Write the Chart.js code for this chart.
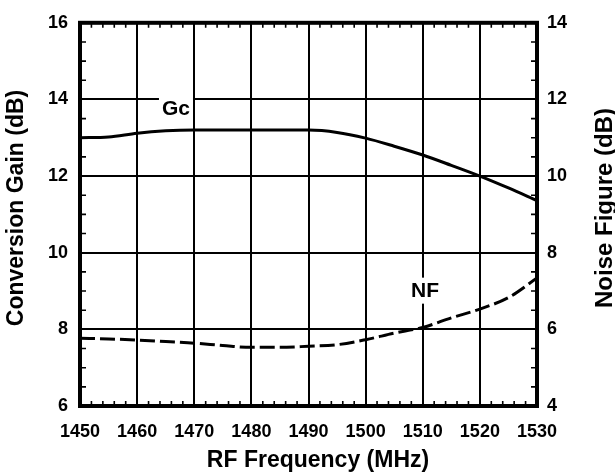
<!DOCTYPE html>
<html>
<head>
<meta charset="utf-8">
<script src="https://cdn.jsdelivr.net/npm/chart.js@4.4.1/dist/chart.umd.min.js"></script>
<style>
  html, body { margin:0; padding:0; background:#fff; }
  #wrap { width:615px; height:476px; }
</style>
</head>
<body>
<div id="wrap"><canvas id="chart" width="615" height="476"></canvas></div>
<script>
// RF frequency (MHz)
const freq = [1450,1455,1460,1465,1470,1475,1480,1485,1490,1495,1500,1505,1510,1515,1520,1525,1530];
// conversion gain Gc (dB, left axis)
const gain = [13.0,13.02,13.12,13.18,13.2,13.2,13.2,13.2,13.2,13.14,12.99,12.78,12.55,12.28,12.0,11.69,11.36];
// noise figure NF (dB, right axis)
const noise = [5.77,5.75,5.72,5.68,5.64,5.58,5.53,5.53,5.56,5.6,5.73,5.9,6.05,6.3,6.53,6.83,7.34];

const FONT = '"Liberation Sans", Arial, sans-serif';

// in-plot labels: [text, x value, y value, axis]
const curveLabels = [
  ['Gc', 1466.8, 13.78, 'y'],
  ['NF', 1510.4, 7.01, 'y1']
];

const fixedBox = (w) => (scale) => { scale.width = w; };
const tickFont = { family: FONT, size: 18, weight: 'bold' };

const decor = {
  id: 'decor',
  beforeDatasetsDraw(chart) {
    const { ctx, chartArea: a, scales } = chart;
    ctx.save();
    ctx.strokeStyle = '#000';
    ctx.lineWidth = 1.6;
    // minor ticks, pointing inward
    const x = scales.x, y = scales.y;
    for (let v = 1450; v <= 1530; v += 2) {
      if (v % 10 === 0) continue;
      const px = x.getPixelForValue(v);
      ctx.beginPath();
      ctx.moveTo(px, a.bottom); ctx.lineTo(px, a.bottom - 5);
      ctx.moveTo(px, a.top); ctx.lineTo(px, a.top + 5);
      ctx.stroke();
    }
    for (let v = 6; v <= 16; v += 0.5) {
      if (v % 2 === 0) continue;
      const py = y.getPixelForValue(v);
      ctx.beginPath();
      ctx.moveTo(a.left, py); ctx.lineTo(a.left + 6, py);
      ctx.moveTo(a.right, py); ctx.lineTo(a.right - 6, py);
      ctx.stroke();
    }
    // curve labels with white background
    ctx.font = 'bold 21px ' + FONT;
    ctx.textAlign = 'center';
    ctx.textBaseline = 'middle';
    curveLabels.forEach(([t, xv, yv, ax]) => {
      const px = x.getPixelForValue(xv), py = scales[ax].getPixelForValue(yv);
      const w = ctx.measureText(t).width + 6;
      ctx.fillStyle = '#fff';
      ctx.fillRect(px - w / 2, py - 13, w, 26);
      ctx.fillStyle = '#000';
      ctx.fillText(t, px, py + 1);
    });
    ctx.restore();
  },
  afterDraw(chart) {
    const { ctx, chartArea: a } = chart;
    ctx.save();
    ctx.fillStyle = '#000';
    ctx.font = 'bold 23px ' + FONT;
    ctx.textAlign = 'center';
    ctx.textBaseline = 'middle';
    ctx.fillText('RF Frequency (MHz)', 318, 461);
    ctx.translate(16.5, 208);
    ctx.rotate(-Math.PI / 2);
    ctx.fillText('Conversion Gain (dB)', 0, 0);
    ctx.restore();
    ctx.save();
    ctx.fillStyle = '#000';
    ctx.font = 'bold 24px ' + FONT;
    ctx.textAlign = 'center';
    ctx.textBaseline = 'middle';
    ctx.translate(605, 208);
    ctx.rotate(-Math.PI / 2);
    ctx.fillText('Noise Figure (dB)', 0, 0);
    ctx.restore();
    // frame
    ctx.save();
    ctx.strokeStyle = '#000';
    ctx.lineWidth = 4;
    ctx.strokeRect(a.left, a.top, a.right - a.left, a.bottom - a.top);
    ctx.restore();
  }
};

new Chart(document.getElementById('chart'), {
  type: 'line',
  data: {
    datasets: [
      {
        label: 'Gc',
        data: freq.map((f, i) => ({ x: f, y: gain[i] })),
        yAxisID: 'y',
        borderColor: '#000',
        borderWidth: 3,
        pointRadius: 0,
        cubicInterpolationMode: 'monotone'
      },
      {
        label: 'NF',
        data: freq.map((f, i) => ({ x: f, y: noise[i] })),
        yAxisID: 'y1',
        borderColor: '#000',
        borderWidth: 3,
        borderDash: [15, 5],
        pointRadius: 0,
        cubicInterpolationMode: 'monotone'
      }
    ]
  },
  options: {
    responsive: false,
    animation: false,
    devicePixelRatio: 1,
    layout: { padding: { top: 14, left: 0, right: 0, bottom: 0 } },
    plugins: { legend: { display: false }, tooltip: { enabled: false } },
    scales: {
      x: {
        type: 'linear', min: 1450, max: 1530,
        afterFit: (s) => { s.height = 70; },
        border: { display: false },
        grid: { color: '#000', lineWidth: 2, drawTicks: false },
        ticks: { stepSize: 10, padding: 15, color: '#000', font: tickFont, callback: (v) => String(v) }
      },
      y: {
        position: 'left', min: 6, max: 16,
        afterFit: fixedBox(80),
        border: { display: false },
        grid: { color: '#000', lineWidth: 2, drawTicks: false },
        ticks: { stepSize: 2, padding: 12, color: '#000', font: tickFont }
      },
      y1: {
        position: 'right', min: 4, max: 14,
        afterFit: fixedBox(78),
        border: { display: false },
        grid: { display: false, drawTicks: false },
        ticks: { stepSize: 2, padding: 10, color: '#000', font: tickFont }
      }
    }
  },
  plugins: [decor]
});
</script>
</body>
</html>
